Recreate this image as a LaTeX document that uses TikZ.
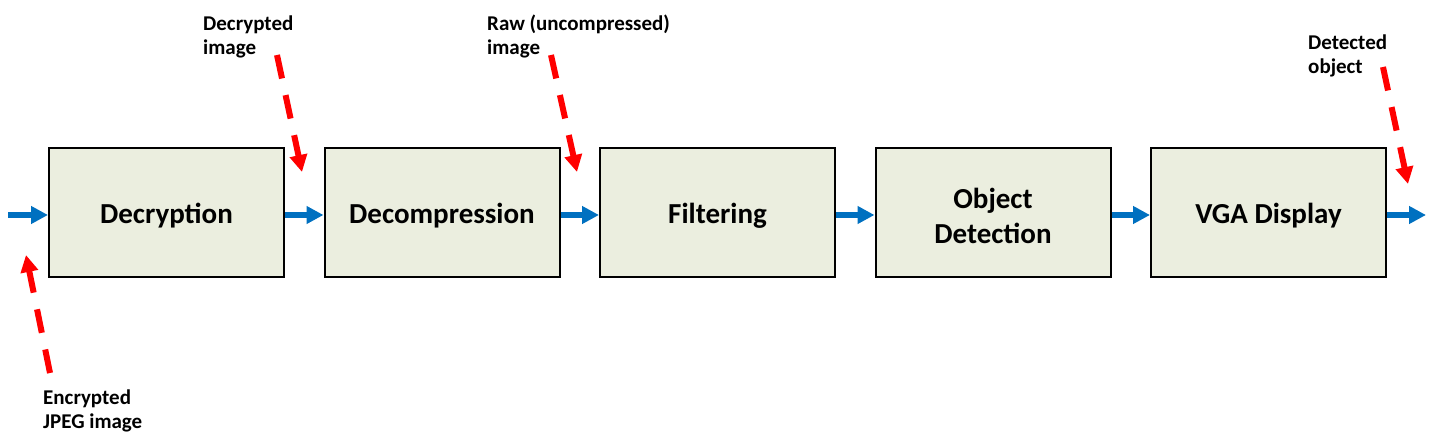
\documentclass[tikz,border=0pt]{standalone}
\usepackage{fontspec}
\setmainfont{Carlito}
\usetikzlibrary{arrows.meta}
\definecolor{boxfill}{HTML}{EBEEDF}
\definecolor{flowblue}{HTML}{0070C0}
\definecolor{tagred}{HTML}{FF0000}
\newcommand\lowr[1]{\raisebox{-3pt}[\height][\depth]{#1}}
\tikzset{
  stage/.style={draw=black, line width=2pt, fill=boxfill, minimum width=235pt, minimum height=129pt,
    inner sep=0pt, align=center, font=\fontsize{29}{35}\selectfont\bfseries},
  flow/.style={draw=flowblue, line width=5.5pt, -{Triangle[length=17pt,width=17pt]}},
  tag/.style={draw=tagred, line width=6pt, dash pattern=on 24pt off 17pt, -{Triangle[length=17pt,width=17pt]}},
  lbl/.style={anchor=base west, inner sep=0pt, align=left, font=\fontsize{21}{24}\selectfont\bfseries}
}
\begin{document}
\begin{tikzpicture}[x=1pt,y=-1pt]
\useasboundingbox (0,0) rectangle (1452,443);
\node[stage] (dec) at (166.5,213) {\lowr{Decryption}};
\node[stage] (dcm) at (442,213) {\lowr{Decompression}};
\node[stage] (fil) at (717.5,213) {\lowr{Filtering}};
\node[stage] (obj) at (993,213) {\lowr{Object}\\\lowr{Detection}};
\node[stage] (vga) at (1268.5,213) {\lowr{VGA Display}};
\coordinate (in) at (8,215);
\coordinate (out) at (1426,215);
\draw[flow] (in) -- (dec.west|-in);
\draw[flow] (dec.east|-in) -- (dcm.west|-in);
\draw[flow] (dcm.east|-in) -- (fil.west|-in);
\draw[flow] (fil.east|-in) -- (obj.west|-in);
\draw[flow] (obj.east|-in) -- (vga.west|-in);
\draw[flow] (vga.east|-in) -- (out);
\node[lbl] (l1) at (203,54.5) {Decrypted\\image};
\node[lbl] (l2) at (487,54.5) {Raw (uncompressed)\\image};
\node[lbl] (l3) at (1308,73.5) {Detected\\object};
\node[lbl] (l0) at (43,429) {Encrypted\\JPEG image};
\coordinate (s1) at (277,55); \coordinate (t1) at (302,172);
\coordinate (s2) at (551,55); \coordinate (t2) at (577,172);
\coordinate (s3) at (1383,67); \coordinate (t3) at (1408,184);
\coordinate (s0) at (50,373); \coordinate (t0) at (26,255);
\draw[tag] (s1) -- (t1);
\draw[tag] (s2) -- (t2);
\draw[tag] (s3) -- (t3);
\draw[tag] (s0) -- (t0);
\end{tikzpicture}
\end{document}
